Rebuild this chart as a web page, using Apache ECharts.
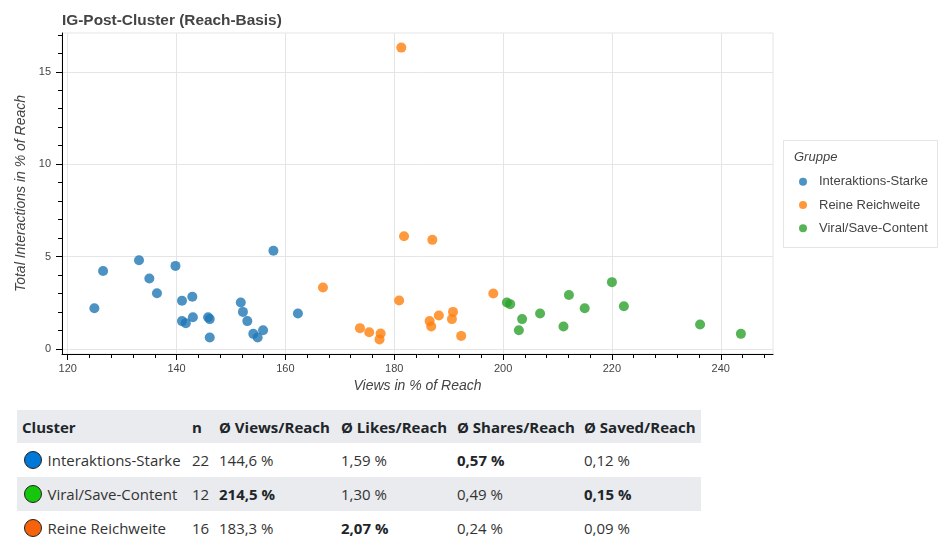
<!DOCTYPE html>
<html>
<head>
    <meta charset="utf-8">
    <title>IG-Post-Cluster (Reach-Basis)</title>
    <script src="https://cdn.jsdelivr.net/npm/echarts@6.0.0/dist/echarts.min.js"></script>
    <style>
        body { margin:0; background:#fff; width:943px; height:557px; overflow:hidden; position:relative; }
        #main { position:absolute; left:0; top:0; width:943px; height:400px; }
        #tbl { position:absolute; left:17px; top:410px; width:684px; border-collapse:collapse; table-layout:fixed;
               font-family:"Open Sans",sans-serif; font-size:15px; color:#333; }
        #tbl th { background:#e9ebee; color:#212529; font-weight:bold; text-align:left; height:33px; padding:0 5px; white-space:nowrap; }
        #tbl td { height:34px; padding:0 5px; white-space:nowrap; }
        #tbl tr.alt td { background:#e9ebee; }
        #tbl b { color:#212529; }
        .dot { display:inline-block; width:16px; height:16px; border-radius:50%; border:1.3px solid #222;
               vertical-align:middle; margin:-3px 6px 0 1.5px; }
    </style>
</head>
<body>
<div id="main"></div>
<table id="tbl">
    <colgroup>
        <col style="width:170px"><col style="width:27px"><col style="width:122px">
        <col style="width:116px"><col style="width:127px"><col style="width:122px">
    </colgroup>
    <thead><tr id="head"></tr></thead>
    <tbody id="body"></tbody>
</table>
<script type="text/javascript">
    // Streudiagramm: Views / Interaktionen je Post, in % der Reichweite
    var blueX = [124.9, 126.5, 133.1, 135.0, 136.4, 139.8, 141.0, 142.9, 141.0, 141.7, 143.0,
                 145.8, 146.1, 146.1, 151.8, 152.2, 153.0, 154.1, 154.9, 155.9, 157.8, 162.3];
    var blueY = [2.20, 4.21, 4.80, 3.81, 3.01, 4.49, 2.60, 2.82, 1.50, 1.39, 1.71,
                 1.71, 1.61, 0.61, 2.51, 2.00, 1.50, 0.81, 0.61, 1.01, 5.31, 1.91];
    var orangeX = [181.3, 181.8, 166.9, 180.9, 173.7, 175.4, 177.5, 177.3,
                   187.0, 198.2, 186.5, 186.8, 188.2, 190.8, 190.6, 192.3];
    var orangeY = [16.31, 6.10, 3.32, 2.62, 1.12, 0.90, 0.83, 0.51,
                   5.90, 3.00, 1.50, 1.21, 1.80, 2.00, 1.61, 0.70];
    var greenX = [200.7, 201.3, 203.5, 202.9, 206.8, 212.1, 211.1, 215.0, 220.0, 222.2, 236.2, 243.7];
    var greenY = [2.51, 2.42, 1.61, 1.01, 1.91, 2.91, 1.21, 2.20, 3.61, 2.31, 1.32, 0.81];

    // Achsen (Bokeh-Stil: gepolsterter Bereich, Haupt- und Nebenticks)
    var xMajor = [120, 140, 160, 180, 200, 220, 240];
    var xMinor = [120, 124, 128, 132, 136, 140, 144, 148, 152, 156, 160, 164, 168, 172, 176, 180, 184,
                  188, 192, 196, 200, 204, 208, 212, 216, 220, 224, 228, 232, 236, 240, 244, 248];
    var yMajor = [0, 5, 10, 15];
    var yMinor = [0, 1, 2, 3, 4, 5, 6, 7, 8, 9, 10, 11, 12, 13, 14, 15, 16, 17];

    // Tabelle
    var clusterNames = ['Interaktions-Starke', 'Viral/Save-Content', 'Reine Reichweite'];
    var clusterDots = ['#0078d7', '#16c60c', '#f7630c'];
    var clusterN = [22, 12, 16];
    var avgViews = [144.6, 214.5, 183.3];
    var avgLikes = [1.59, 1.30, 2.07];
    var avgShares = [0.57, 0.49, 0.24];
    var avgSaved = [0.12, 0.15, 0.09];

    function toPairs(xs, ys) {
        var out = [];
        for (var i = 0; i < xs.length; i++) out.push([xs[i], ys[i]]);
        return out;
    }

    var myChart = echarts.init(document.getElementById('main'));
    var axisFont = 'Liberation Sans';
    var tickStyle = {color: '#000', width: 1};

    myChart.setOption({
        animation: false,
        title: {
            text: 'IG-Post-Cluster (Reach-Basis)',
            left: 62, top: 13, padding: 0,
            textStyle: {color: '#444', fontSize: 15.4, fontWeight: 'bold', fontFamily: axisFont}
        },
        grid: {left: 62, top: 33, width: 711, height: 321, show: true, borderColor: '#e5e5e5', borderWidth: 1},
        legend: {
            orient: 'vertical', left: 799, top: 173.7, padding: 0,
            itemWidth: 8, itemHeight: 8, itemGap: 7.3, icon: 'circle', selectedMode: false,
            data: ['Interaktions-Starke', 'Reine Reichweite', 'Viral/Save-Content'],
            textStyle: {color: '#444', fontSize: 13, fontFamily: axisFont, lineHeight: 16, padding: [0, 0, 0, 7]}
        },
        graphic: [
            {type: 'rect', left: 783, top: 140, z: -10, shape: {width: 154, height: 107},
             style: {fill: '#fff', stroke: '#e5e5e5', lineWidth: 1}},
            {type: 'text', left: 794, top: 151, style: {text: 'Gruppe', fill: '#444', font: 'italic 13px "Liberation Sans"'}}
        ],
        xAxis: [{
            type: 'value', min: 118.95, max: 249.6,
            name: 'Views in % of Reach', nameLocation: 'middle', nameGap: 23,
            nameTextStyle: {color: '#444', fontSize: 14, fontStyle: 'italic', fontFamily: axisFont},
            axisLine: {show: true, onZero: false, lineStyle: tickStyle},
            axisTick: {show: true, length: 6, customValues: xMajor, lineStyle: tickStyle},
            axisLabel: {customValues: xMajor, margin: 9, color: '#444', fontSize: 11, fontFamily: axisFont},
            splitLine: {show: true, lineStyle: {color: '#e5e5e5'}}
        }, {
            type: 'value', min: 118.95, max: 249.6, position: 'bottom',
            axisLine: {show: false, onZero: false},
            axisTick: {show: true, length: 4, customValues: xMinor, lineStyle: tickStyle},
            axisLabel: {show: false},
            splitLine: {show: false}
        }],
        yAxis: [{
            type: 'value', min: -0.28, max: 17.1,
            name: 'Total Interactions in % of Reach', nameLocation: 'middle', nameGap: 33,
            nameTextStyle: {color: '#444', fontSize: 14, fontStyle: 'italic', fontFamily: axisFont},
            axisLine: {show: true, onZero: false, lineStyle: tickStyle},
            axisTick: {show: true, length: 6, customValues: yMajor, lineStyle: tickStyle},
            axisLabel: {customValues: yMajor, margin: 11, color: '#444', fontSize: 11, fontFamily: axisFont},
            splitLine: {show: true, lineStyle: {color: '#e5e5e5'}}
        }, {
            type: 'value', min: -0.28, max: 17.1, position: 'left',
            axisLine: {show: false, onZero: false},
            axisTick: {show: true, length: 4, customValues: yMinor, lineStyle: tickStyle},
            axisLabel: {show: false},
            splitLine: {show: false}
        }],
        series: [
            {name: 'Interaktions-Starke', type: 'scatter', data: toPairs(blueX, blueY), symbolSize: 10,
             itemStyle: {color: '#1f77b4', opacity: 0.8}, emphasis: {disabled: true}},
            {name: 'Reine Reichweite', type: 'scatter', data: toPairs(orangeX, orangeY), symbolSize: 10,
             itemStyle: {color: '#ff7f0e', opacity: 0.8}, emphasis: {disabled: true}},
            {name: 'Viral/Save-Content', type: 'scatter', data: toPairs(greenX, greenY), symbolSize: 10,
             itemStyle: {color: '#2ca02c', opacity: 0.8}, emphasis: {disabled: true}}
        ]
    });

    // Tabelle aufbauen, Spaltenmaximum fett
    function fmt(v, d) { return v.toFixed(d).replace('.', ',') + ' %'; }
    function cell(arr, i, d) {
        var best = Math.max.apply(null, arr);
        var txt = fmt(arr[i], d);
        return '<td>' + (arr[i] === best ? '<b>' + txt + '</b>' : txt) + '</td>';
    }
    var heads = ['Cluster', 'n', 'Ø Views/Reach', 'Ø Likes/Reach', 'Ø Shares/Reach', 'Ø Saved/Reach'];
    document.getElementById('head').innerHTML = heads.map(function (h) { return '<th>' + h + '</th>'; }).join('');
    var rows = '';
    for (var i = 0; i < clusterNames.length; i++) {
        rows += '<tr' + (i % 2 === 1 ? ' class="alt"' : '') + '>' +
            '<td><span class="dot" style="background:' + clusterDots[i] + '"></span>' + clusterNames[i] + '</td>' +
            '<td>' + clusterN[i] + '</td>' +
            cell(avgViews, i, 1) + cell(avgLikes, i, 2) + cell(avgShares, i, 2) + cell(avgSaved, i, 2) +
            '</tr>';
    }
    document.getElementById('body').innerHTML = rows;
</script>
</body>
</html>
